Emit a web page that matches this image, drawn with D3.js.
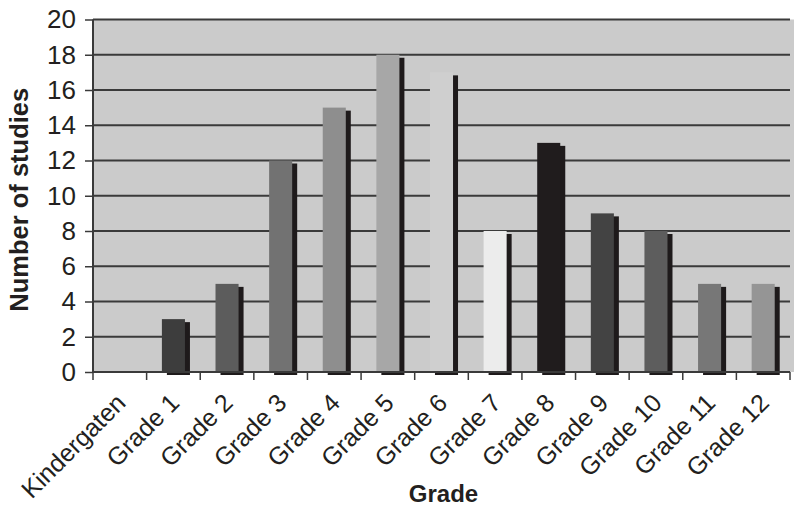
<!DOCTYPE html>
<html>
<head>
<meta charset="utf-8">
<script src="https://cdn.jsdelivr.net/npm/d3@7"></script>
<style>
    body { margin: 0; background: #fff; }
    #chart { width: 800px; height: 512px; }
    text { font-family: "Liberation Sans", Arial, sans-serif; fill: #231f20; }
</style>
</head>
<body>
<div id="chart"></div>
<script>
//Datos
const CATEGORIES = ['Kindergaten', 'Grade 1', 'Grade 2', 'Grade 3', 'Grade 4', 'Grade 5', 'Grade 6',
    'Grade 7', 'Grade 8', 'Grade 9', 'Grade 10', 'Grade 11', 'Grade 12'];
const STUDIES = [0, 3, 5, 12, 15, 18, 17, 8, 13, 9, 8, 5, 5];
const Y_TICKS = [0, 2, 4, 6, 8, 10, 12, 14, 16, 18, 20];

//Colores fijos
const BAR_COLORS = ['#555555', '#3d3d3d', '#5c5c5c', '#727272', '#8e8e8e', '#a7a7a7', '#cfcfcf',
    '#ececec', '#201c1d', '#434343', '#5d5d5d', '#777777', '#959595'];
const COLOR_SHADOW = '#1e1a1b',
COLOR_BG = '#cbcbcb',
COLOR_LINE = '#3a3a3a';

let data = CATEGORIES.map(function(c, i) { return {grade: c, value: STUDIES[i], color: BAR_COLORS[i]}; });

let margin = {top: 19.5, right: 10, bottom: 140, left: 93},
    width = 800 - margin.left - margin.right,
    height = 512 - margin.top - margin.bottom;

let svg = d3.select("#chart")
    .append("svg")
      .attr("width", width + margin.left + margin.right)
      .attr("height", height + margin.top + margin.bottom)
    .append("g")
      .attr("transform", "translate(" + margin.left + "," + margin.top + ")");

let x = d3.scaleBand()
    .range([0, width])
    .domain(CATEGORIES)
    .padding(0);

let y = d3.scaleLinear()
    .domain([0, 20])
    .range([height, 0]);

//Fondo
svg.append("rect")
    .attr("x", 0).attr("y", 0)
    .attr("width", width + 4).attr("height", height)
    .attr("fill", COLOR_BG);

//Rejilla
svg.append("g")
    .selectAll("line")
    .data(Y_TICKS)
    .enter()
    .append("line")
    .attr("x1", 0).attr("x2", width)
    .attr("y1", function(d) { return y(d); })
    .attr("y2", function(d) { return y(d); })
    .attr("stroke", COLOR_LINE)
    .attr("stroke-width", 2);

//Barras
let barW = x.step() * 0.43,
    shX = 5, shY = 3;

svg.selectAll("shadows")
    .data(data)
    .enter()
    .append("rect")
    .attr("x", function(d) { return x(d.grade) + (x.step() - barW) / 2 + shX; })
    .attr("y", function(d) { return y(d.value) + shY; })
    .attr("width", barW)
    .attr("height", function(d) { return height - y(d.value); })
    .attr("fill", COLOR_SHADOW);

svg.selectAll("bars")
    .data(data)
    .enter()
    .append("rect")
    .attr("x", function(d) { return x(d.grade) + (x.step() - barW) / 2; })
    .attr("y", function(d) { return y(d.value); })
    .attr("width", barW)
    .attr("height", function(d) { return height - y(d.value); })
    .attr("fill", function(d) { return d.color; });

//Eje Y
let yAxis = function(g) {
    g.call(d3.axisLeft(y).tickValues(Y_TICKS).tickSize(8).tickPadding(9));
    g.select('.domain').remove();
    g.selectAll('.tick line').attr('stroke', COLOR_LINE).attr('stroke-width', 1.5);
    g.selectAll('.tick text')
        .style('font-size', '26px')
        .attr('fill', '#231f20');
}
svg.append("g").call(yAxis);

svg.append("line")
    .attr("x1", 0).attr("x2", 0)
    .attr("y1", 0).attr("y2", height)
    .attr("stroke", COLOR_LINE).attr("stroke-width", 2);

//Eje X
svg.append("line")
    .attr("x1", 0).attr("x2", width)
    .attr("y1", height).attr("y2", height)
    .attr("stroke", COLOR_LINE).attr("stroke-width", 2);

svg.append("g")
    .selectAll("line")
    .data(d3.range(CATEGORIES.length + 1))
    .enter()
    .append("line")
    .attr("x1", function(i) { return i * x.step(); })
    .attr("x2", function(i) { return i * x.step(); })
    .attr("y1", height).attr("y2", height + 8)
    .attr("stroke", COLOR_LINE).attr("stroke-width", 1.5);

svg.append("g")
    .selectAll("text")
    .data(CATEGORIES)
    .enter()
    .append("text")
    .attr("transform", function(d) {
        return "translate(" + (x(d) + x.bandwidth() / 2 - 5) + "," + (height + 20) + ")rotate(-45)";
    })
    .attr("text-anchor", "end")
    .attr("dy", "0.7em")
    .style("font-size", "25px")
    .text(function(d) { return d; });

//Títulos
svg.append("text")
    .attr("transform", "translate(" + (-65) + "," + (height / 2 + 4) + ")rotate(-90)")
    .attr("text-anchor", "middle")
    .style("font-size", "25.5px")
    .style("font-weight", "bold")
    .text("Number of studies");

svg.append("text")
    .attr("x", width / 2 + 2)
    .attr("y", height + 130)
    .attr("text-anchor", "middle")
    .style("font-size", "24px")
    .style("font-weight", "bold")
    .text("Grade");
</script>
</body>
</html>
